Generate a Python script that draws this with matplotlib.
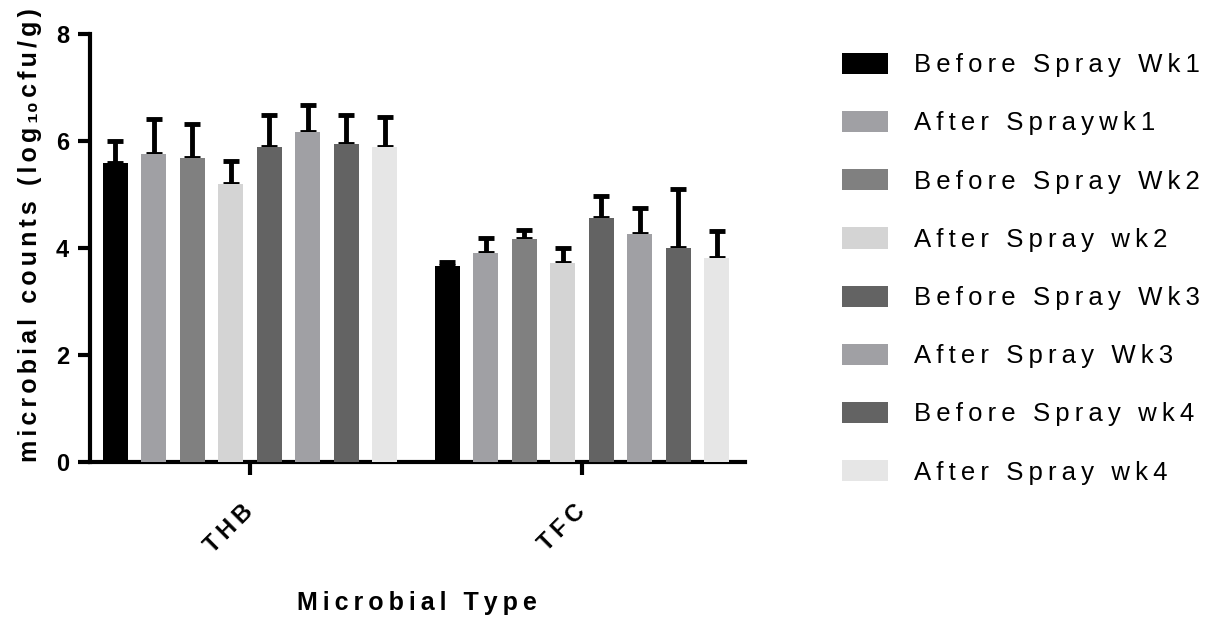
import numpy as np
import matplotlib
matplotlib.use('Agg')
import matplotlib.pyplot as plt

# data
groups = ['THB', 'TFC']
series = ['Before Spray Wk1', 'After Spraywk1', 'Before Spray Wk2', 'After Spray wk2',
          'Before Spray Wk3', 'After Spray Wk3', 'Before Spray wk4', 'After Spray wk4']
thb_mean = [5.59, 5.75, 5.69, 5.20, 5.89, 6.16, 5.94, 5.89]
thb_err = [0.41, 0.67, 0.63, 0.42, 0.59, 0.51, 0.54, 0.56]
tfc_mean = [3.66, 3.91, 4.16, 3.72, 4.56, 4.27, 4.00, 3.81]
tfc_err = [0.07, 0.28, 0.17, 0.28, 0.41, 0.48, 1.11, 0.50]
colors = ['#000000', '#a0a0a4', '#808080', '#d4d4d4',
          '#636363', '#a0a0a4', '#636363', '#e6e6e6']

FAM = ['Liberation Sans', 'DejaVu Sans']
plt.rcParams['font.family'] = FAM


def spread(s, gap='\u2009'):
    # fake letter tracking like the GraphPad export
    return gap.join(list(s))


fig = plt.figure(figsize=(12.21, 6.17), dpi=100)
ax = fig.add_axes([0.0737, 0.251, 0.5363, 0.694])

x = np.arange(len(groups))
step = 0.116
width = 0.075
for i, name in enumerate(series):
    pos = x + (i - 3.5) * step
    vals = [thb_mean[i], tfc_mean[i]]
    errs = [thb_err[i], tfc_err[i]]
    ax.errorbar(pos, vals, yerr=[[0, 0], errs], fmt='none', ecolor='black',
                elinewidth=3.5, capsize=6, capthick=3.5, zorder=1)
    ax.bar(pos, vals, width, color=colors[i], label=spread(name), zorder=3)

ax.set_xlim(-0.482, 1.491)
ax.set_ylim(0, 8)
ax.set_yticks([0, 2, 4, 6, 8])
ax.set_yticklabels(['0', '2', '4', '6', '8'], fontsize=17, fontweight='bold')
ax.set_xticks(x)
ax.set_xticklabels([spread(g) for g in groups], fontsize=17, fontweight='bold',
                   rotation=45, ha='right', va='center', rotation_mode='anchor')

for side in ['top', 'right']:
    ax.spines[side].set_visible(False)
for side in ['left', 'bottom']:
    ax.spines[side].set_linewidth(3)
ax.tick_params(width=3, length=9, pad=6)
ax.tick_params(axis='x', pad=24)

gs = '\u2006'
ax.set_ylabel(spread('microbial counts (log', gs) + gs + '₁₀' + gs + spread('cfu/g)', gs),
              fontsize=18, fontweight='bold', family=FAM)
ax.yaxis.set_label_coords(-0.074, 0.53)
ax.set_xlabel(spread('Microbial Type'), fontsize=18, fontweight='bold', labelpad=24)

ax.legend(loc='upper left', bbox_to_anchor=(1.133, 0.98), frameon=False,
          fontsize=18.5, handlelength=1.8, handleheight=0.9,
          handletextpad=1.0, labelspacing=1.31, borderaxespad=0)

fig.savefig('out.png', dpi=100)
